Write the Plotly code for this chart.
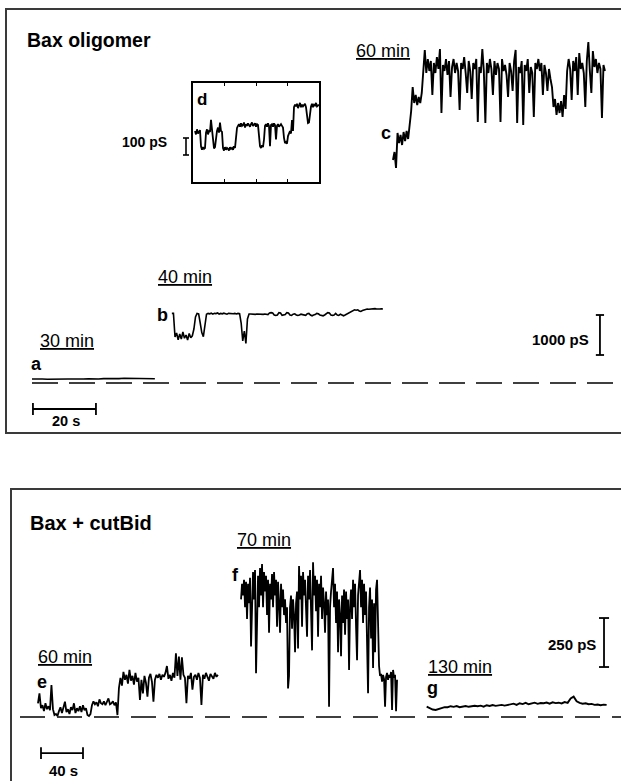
import numpy as np
import plotly.graph_objects as go

W, H = 621, 781

# ---------------- DATA ----------------
# Top panel "Bax oligomer": time (s) vs conductance (pS); baseline = 0 pS
a_start, a_dur = 0.0, 39.0
a_vals = [100, 105, 100, 95, 100, 100, 105, 100, 100, 95, 100, 105, 100,
          100, 110, 105, 115, 110, 120, 115, 110, 120, 115, 110, 105]

b_start, b_dur = 44.4, 67.0
b_vals = [1740, 1740,
          1150, 1250, 1080, 1225, 1100, 1275, 1120, 1200, 1075, 1240, 1130, 1180,
          1350, 1650, 1740,
          1730, 1500, 1260, 1160, 1450, 1720,
          1740, 1730, 1745, 1720, 1740, 1735, 1750, 1725, 1740, 1730, 1745, 1740,
          1720, 1740, 1735, 1745, 1730, 1740, 1725, 1740, 1735,
          1500, 1050, 1300, 990, 1600, 1725,
          1725, 1720, 1730, 1715, 1725, 1720, 1730, 1725, 1715, 1725, 1720, 1710,
          1750, 1760, 1750, 1700, 1690, 1700, 1760, 1750, 1690, 1700,
          1710, 1760, 1750, 1700, 1690, 1720, 1730, 1700, 1690, 1700,
          1720, 1710, 1700, 1690, 1730, 1740, 1700, 1680, 1700, 1710,
          1740, 1730, 1700, 1690, 1680, 1700, 1720, 1760, 1750, 1700,
          1690, 1700, 1740, 1700, 1690, 1720, 1700, 1680, 1700, 1720,
          1760, 1780, 1800, 1820, 1830, 1820, 1830, 1800, 1790, 1810,
          1830, 1840, 1850, 1845, 1850, 1840, 1850, 1860, 1850, 1845,
          1850, 1855, 1850]

c_start, c_dur = 114.6, 67.3
c_vals = [5575, 5775, 5375, 6250, 6000, 6200, 5950, 6275, 6050, 6300,
          6100, 6400, 6800, 7400, 7000, 7200, 6950, 7150, 7000, 7250,
          7900, 8325, 7750, 8100, 7800, 8050, 7200, 8000, 7750, 8150,
          7850, 8350, 6750, 7950, 7800, 8100, 7700, 8050, 7150, 7900,
          8100, 7750, 8000, 7800, 6825, 8000, 7850, 8150, 7750, 7250,
          8050, 7800, 7100, 8000, 7850, 8100, 6525, 7900, 7750, 8350,
          7800, 6500, 8000, 7750, 8100, 7850, 7200, 8050, 7700, 8000,
          7850, 6525, 8100, 7800, 7950, 7700, 7150, 8000, 7800, 7300,
          8050, 8325, 6500, 7900, 7750, 8050, 6450, 7950, 7800, 8100,
          7250, 7900, 7750, 6650, 8000, 7850, 8100, 7800, 8000, 7200,
          7950, 7750, 7300, 7850, 7600, 7400, 6900, 7100, 6700, 7000,
          6750, 7050, 6650, 7200, 6850, 7800, 8100, 7850, 7075, 8050,
          7800, 8150, 7200, 8250, 7850, 8000, 7750, 6900, 8050, 8525,
          7800, 7250, 8300, 7900, 8100, 7750, 8000, 7850, 6625, 7950,
          7800]

# Inset "d": time (s) vs conductance (pS)
d_start, d_dur = 0.19, 11.81
d_vals = [300, 280, 310, 285, 295, 305,
          210, 190, 205, 195, 200,
          290, 310, 280, 300, 295,
          365, 310,
          240, 198, 205, 260,
          300, 320, 290, 350, 300, 295,
          200, 185, 205, 190, 200, 195, 185, 205, 195, 200, 190, 210, 200,
          260, 318, 330,
          340, 325, 345, 330, 335, 350, 320, 340, 330, 345,
          335, 325, 340, 350, 330, 335, 345, 325, 340, 335,
          260, 210, 200, 215, 205, 250,
          330, 340, 325, 345, 330, 210, 335, 340, 325, 345,
          335, 250, 330, 340, 325, 335, 340, 330, 320,
          260, 229, 235, 225, 270,
          290, 300, 285, 365, 300,
          440, 455, 445, 460, 435, 450, 465, 440, 455, 445, 450, 460, 440,
          380, 347, 350, 400,
          445, 460, 440, 455, 450, 465, 445, 450, 455]

# Bottom panel "Bax + cutBid": time (s) vs conductance (pS)
e_start, e_dur = 17.1, 171.4
e_vals = [70, 121,
          45, 60, 30, 70, 40, 55, 35,
          163,
          40, 10, 15, 5,
          30, 50, 20, 45, 78, 25, 40, 15, 50, 35, 70, 20, 45, 30, 55, 25, 60, 35, 45,
          10, 5, 15,
          60, 80, 65, 75, 55, 90, 70, 65, 80, 60, 75, 95, 65, 70, 80, 60, 75,
          10,
          148,
          200, 160, 230, 190, 215, 170, 240, 185, 210, 165, 225, 180, 200,
          87, 190, 120, 210, 175, 104, 200, 220, 180, 78, 190, 215,
          200, 220, 190, 215, 205, 225, 260, 195, 215, 185,
          225, 200, 325, 210, 308, 190, 305, 215, 200, 70,
          210, 195, 225, 140, 205, 215, 190, 225, 200, 61,
          215, 195, 225, 205, 185, 220, 210, 195, 225, 205,
          215]

f_start, f_dur = 210.5, 148.6
f_vals = [600, 680, 620, 700, 560, 690, 500, 680, 580, 710,
          360, 650, 740, 600, 750, 223, 620, 720, 560, 760,
          620, 780, 560, 740, 640, 720, 520, 700, 430, 680,
          600, 730, 560, 740, 620, 700, 460, 690, 580, 430,
          680, 560, 650, 520, 600, 480, 560, 146, 210, 560,
          620, 450, 600, 520, 330, 580, 640, 350, 770, 600,
          720, 460, 740, 620, 700, 560, 410, 720, 600, 750,
          560, 340, 790, 620, 720, 540, 700, 410, 680, 560,
          720, 500, 660, 580, 430, 640, 520, 600, 52, 560,
          640, 700, 760, 560, 680, 480, 640, 330, 600, 520,
          310, 620, 480, 650, 420, 640, 500, 600, 240, 560,
          650, 500, 700, 560, 680, 460, 290, 620, 720, 750,
          560, 700, 480, 680, 520, 640, 380, 121, 560, 660,
          400, 600, 250, 580, 330, 650, 700, 480, 260, 210,
          220, 180, 215, 195, 53, 205, 225, 190, 215, 200,
          230, 36, 240, 200, 215, 30, 190]

g_start, g_dur = 387.3, 171.4
g_vals = [53, 45, 38, 36,
          40, 44, 50,
          50, 55, 52, 56, 50, 54, 56, 52, 55, 57,
          55, 58, 53, 60, 56, 61, 57, 59, 62, 58, 61,
          64, 68, 62, 70, 66, 72, 65, 70, 73, 67, 71,
          70, 74, 68, 75, 71, 73, 69, 76, 72,
          95, 104, 80,
          72, 68, 70, 65, 67, 62, 64, 60, 63, 62]

# Scale bars (value, position)
top_time_bar_s = 20
top_cond_bar_pS = 1000
inset_cond_bar_pS = 100
bot_time_bar_s = 40
bot_cond_bar_pS = 250

panel_titles = ["Bax oligomer", "Bax + cutBid"]
time_labels = ["30 min", "40 min", "60 min", "60 min", "70 min", "130 min"]
trace_letters = ["a", "b", "c", "d", "e", "f", "g"]

# ---------------- FIGURE ----------------
FONT = "Liberation Sans, Arial, Helvetica, sans-serif"


def times(start, dur, vals):
    n = len(vals)
    return start + np.arange(n) * dur / (n - 1)


def px(x, y):
    return x / W, 1 - y / H


fig = go.Figure()
K = dict(mode="lines", hoverinfo="skip", showlegend=False)

# top panel traces
fig.add_trace(go.Scatter(x=times(a_start, a_dur, a_vals), y=a_vals,
                         line=dict(color="black", width=1.6), xaxis="x", yaxis="y", **K))
fig.add_trace(go.Scatter(x=times(b_start, b_dur, b_vals), y=b_vals,
                         line=dict(color="black", width=1.6), xaxis="x", yaxis="y", **K))
fig.add_trace(go.Scatter(x=times(c_start, c_dur, c_vals), y=c_vals,
                         line=dict(color="black", width=1.9), xaxis="x", yaxis="y", **K))
# top baseline
fig.add_trace(go.Scatter(x=[0, 187], y=[0, 0],
                         line=dict(color="black", width=1.6, dash="26px,11px"),
                         xaxis="x", yaxis="y", **K))
# top scale bars
t0, t1 = 0.3, 0.3 + top_time_bar_s
yb = -650
fig.add_trace(go.Scatter(x=[t0, t0, None, t0, t1, None, t1, t1],
                         y=[yb - 150, yb + 150, None, yb, yb, None, yb - 150, yb + 150],
                         line=dict(color="black", width=1.8), xaxis="x", yaxis="y", **K))
xs, c0 = 180.3, 700
c1 = c0 + top_cond_bar_pS
fig.add_trace(go.Scatter(x=[xs - 1.3, xs + 1.3, None, xs, xs, None, xs - 1.3, xs + 1.3],
                         y=[c0, c0, None, c0, c1, None, c1, c1],
                         line=dict(color="black", width=1.8), xaxis="x", yaxis="y", **K))

# inset trace
fig.add_trace(go.Scatter(x=times(d_start, d_dur, d_vals), y=d_vals,
                         line=dict(color="black", width=1.8), xaxis="x3", yaxis="y3", **K))
# inset scale bar (axis 4 shares inset conductance scale)
i0 = 158.8
i1 = i0 + inset_cond_bar_pS
fig.add_trace(go.Scatter(x=[8, 14, None, 11, 11, None, 8, 14],
                         y=[i0, i0, None, i0, i1, None, i1, i1],
                         line=dict(color="black", width=1.6), xaxis="x4", yaxis="y4", **K))

# bottom traces
fig.add_trace(go.Scatter(x=times(e_start, e_dur, e_vals), y=e_vals,
                         line=dict(color="black", width=1.8), xaxis="x2", yaxis="y2", **K))
fig.add_trace(go.Scatter(x=times(f_start, f_dur, f_vals), y=f_vals,
                         line=dict(color="black", width=1.8), xaxis="x2", yaxis="y2", **K))
fig.add_trace(go.Scatter(x=times(g_start, g_dur, g_vals), y=g_vals,
                         line=dict(color="black", width=1.9), xaxis="x2", yaxis="y2", **K))
fig.add_trace(go.Scatter(x=[0, 573], y=[0, 0],
                         line=dict(color="black", width=1.6, dash="25px,12px"),
                         xaxis="x2", yaxis="y2", **K))
# bottom scale bars
u0, u1 = 20, 20 + bot_time_bar_s
yb2 = -184
fig.add_trace(go.Scatter(x=[u0, u0, None, u0, u1, None, u1, u1],
                         y=[yb2 - 30, yb2 + 30, None, yb2, yb2, None, yb2 - 30, yb2 + 30],
                         line=dict(color="black", width=1.8), xaxis="x2", yaxis="y2", **K))
xs2, g0 = 556.2, 255
g1 = g0 + bot_cond_bar_pS
fig.add_trace(go.Scatter(x=[xs2 - 4.8, xs2 + 4.8, None, xs2, xs2, None, xs2 - 4.8, xs2 + 4.8],
                         y=[g0, g0, None, g0, g1, None, g1, g1],
                         line=dict(color="black", width=1.8), xaxis="x2", yaxis="y2", **K))

hidden = dict(showgrid=False, zeroline=False, showticklabels=False, ticks="")
border = dict(showline=True, linecolor="#3a3a3a", linewidth=1.5)

fig.update_layout(
    width=W, height=H, margin=dict(l=0, r=0, t=0, b=0),
    paper_bgcolor="white", plot_bgcolor="rgba(0,0,0,0)",
    font=dict(family=FONT, color="black"),
    xaxis=dict(domain=[7 / W, 1], range=[(7 - 32) / 3.15, (621 - 32) / 3.15],
               mirror=True, **border, **hidden),
    yaxis=dict(domain=[1 - 432 / H, 1 - 10 / H], range=[-1225, 9325],
               mirror=False, **border, **hidden),
    xaxis2=dict(domain=[12 / W, 1], range=[(12 - 20) / 1.05, (621 - 20) / 1.05],
                side="top", mirror=False, anchor="y2", **border, **hidden),
    yaxis2=dict(domain=[0, 1 - 490 / H], range=[-326.53, 1158.16],
                mirror=False, anchor="x2", **border, **hidden),
    xaxis3=dict(domain=[193 / W, 319 / W], range=[0, 12], anchor="y3",
                showline=True, linecolor="black", linewidth=1.5, mirror="ticks",
                ticks="inside", ticklen=3, tickcolor="black", tickvals=[3, 6, 9],
                showgrid=False, zeroline=False, showticklabels=False),
    yaxis3=dict(domain=[1 - 182 / H, 1 - 83 / H], range=[0, 582.35], anchor="x3",
                showline=True, linecolor="black", linewidth=1.5, mirror=True,
                showgrid=False, zeroline=False, showticklabels=False, ticks=""),
    xaxis4=dict(domain=[175 / W, 193 / W], range=[0, 18], anchor="y4", visible=False),
    yaxis4=dict(domain=[1 - 182 / H, 1 - 83 / H], range=[0, 582.35], anchor="x4",
                visible=False),
)


def label(text, x, y, size, anchor="left"):
    xp, yp = px(x, y)
    fig.add_annotation(x=xp, y=yp, xref="paper", yref="paper", text=text,
                       showarrow=False, xanchor=anchor, yanchor="middle",
                       borderpad=0, borderwidth=0,
                       font=dict(family=FONT, size=size, color="black"))


# top panel labels
label(f"<b>{panel_titles[0]}</b>", 27, 40, 19.5)
label(f"<u>{time_labels[0]}</u>", 40, 341, 18)
label(f"<u>{time_labels[1]}</u>", 158, 277, 18)
label(f"<u>{time_labels[2]}</u>", 356, 51, 18)
label(f"<b>{trace_letters[0]}</b>", 31, 364, 18)
label(f"<b>{trace_letters[1]}</b>", 157, 315, 18)
label(f"<b>{trace_letters[2]}</b>", 381, 133, 18)
label(f"<b>{trace_letters[3]}</b>", 197, 100, 17)
label(f"<b>{inset_cond_bar_pS} pS</b>", 122, 142, 14)
label(f"<b>{top_time_bar_s} s</b>", 52, 421, 14.5)
label(f"<b>{top_cond_bar_pS} pS</b>", 532, 340, 15)

# bottom panel labels
label(f"<b>{panel_titles[1]}</b>", 30, 523, 20)
label(f"<u>{time_labels[3]}</u>", 38, 657, 18)
label(f"<u>{time_labels[4]}</u>", 237, 540, 18)
label(f"<u>{time_labels[5]}</u>", 428, 667, 18)
label(f"<b>{trace_letters[4]}</b>", 37, 682, 18)
label(f"<b>{trace_letters[5]}</b>", 232, 575, 18)
label(f"<b>{trace_letters[6]}</b>", 427, 688, 18)
label(f"<b>{bot_cond_bar_pS} pS</b>", 548, 644, 15)
label(f"<b>{bot_time_bar_s} s</b>", 49, 770, 15)

fig.write_html("out.html", config={"displayModeBar": False},
               post_script="document.body.style.margin='0';document.body.style.overflow='hidden';")
